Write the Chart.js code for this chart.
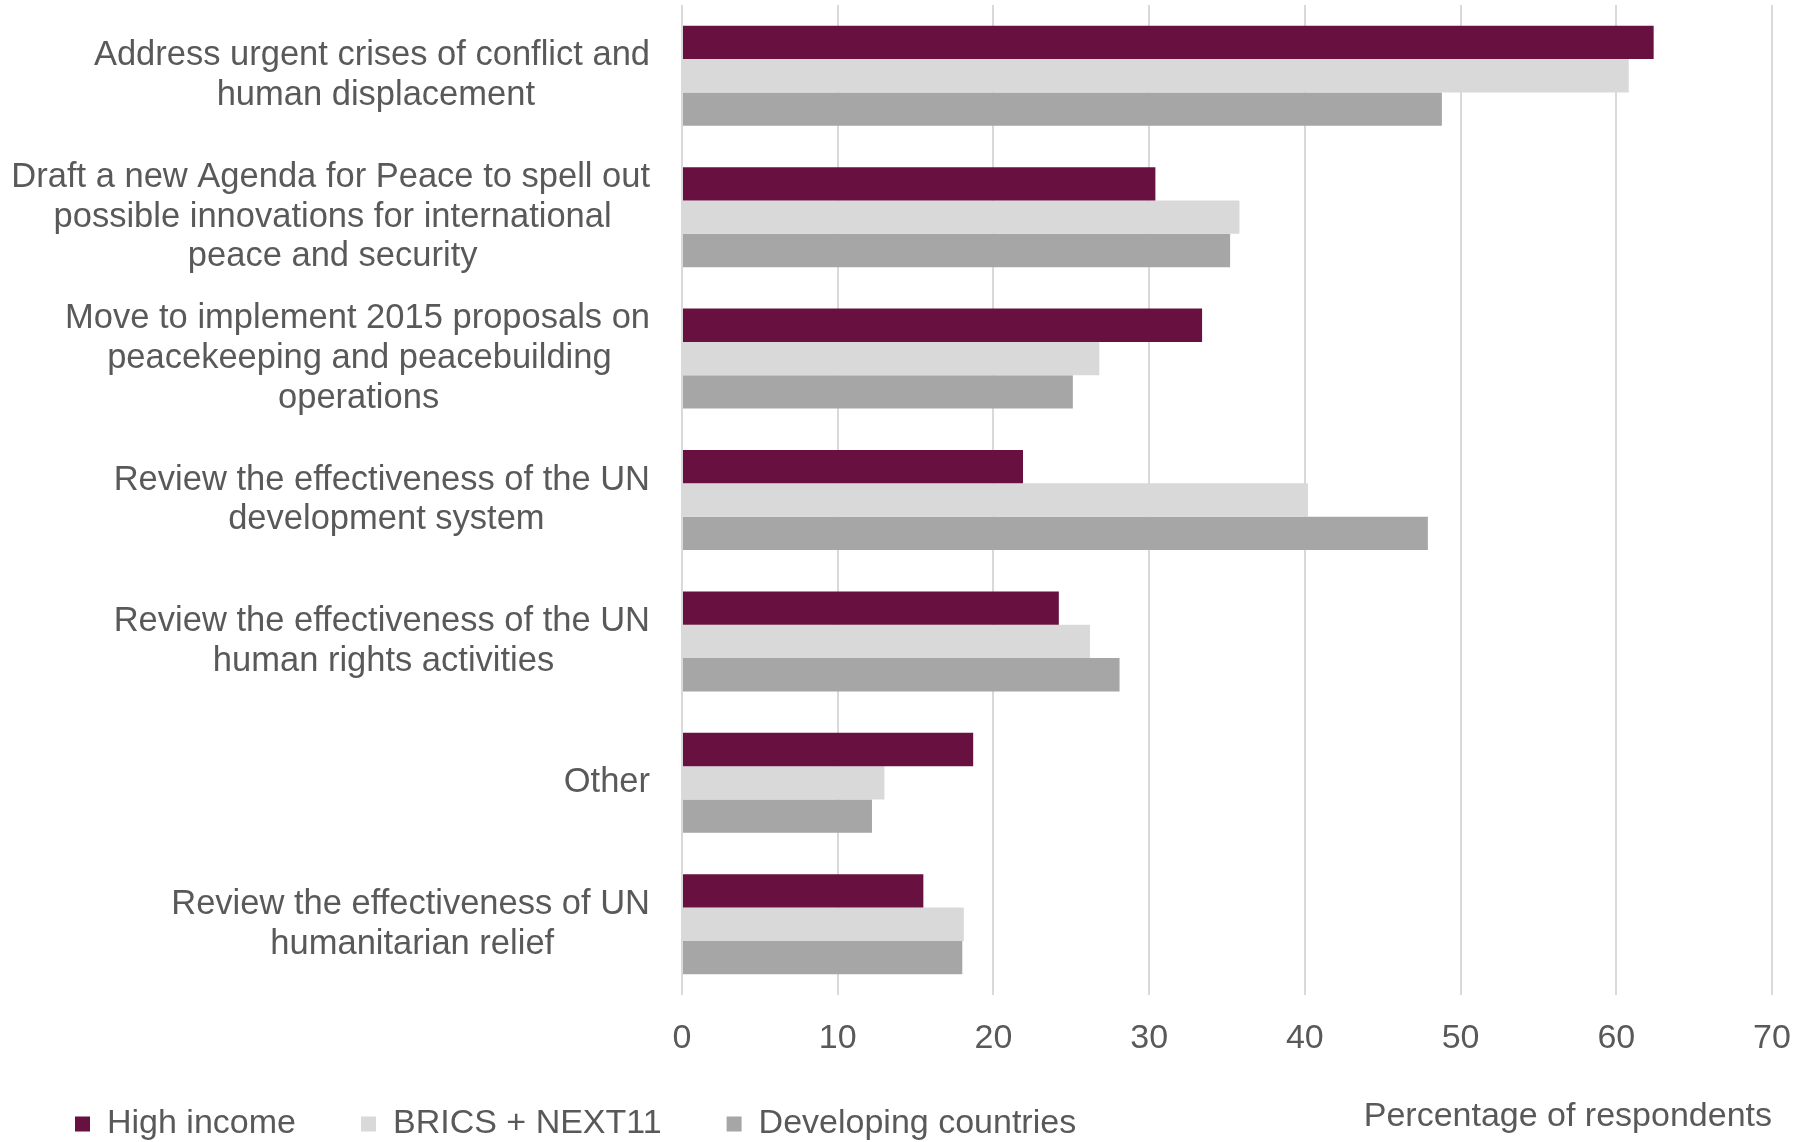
<!DOCTYPE html>
<html>
<head>
<meta charset="utf-8">
<script src="https://cdn.jsdelivr.net/npm/chart.js@4.4.1/dist/chart.umd.min.js"></script>
<style>
  html, body { margin: 0; padding: 0; background: #ffffff; overflow: hidden; }
  #wrap { width: 1802px; height: 1142px; position: relative; }
  canvas { display: block; }
</style>
</head>
<body>
<div id="wrap"><canvas id="c" width="1802" height="1142"></canvas></div>
<script>
// ---- data ----
const categories = [
  ["Address urgent crises of conflict and", "human displacement"],
  ["Draft a new Agenda for Peace to spell out", "possible innovations for international", "peace and security"],
  ["Move to implement 2015 proposals on", "peacekeeping and peacebuilding", "operations"],
  ["Review the effectiveness of the UN", "development system"],
  ["Review the effectiveness of the UN", "human rights activities"],
  "Other",
  ["Review the effectiveness of UN", "humanitarian relief"]
];
const seriesNames = ["High income", "BRICS + NEXT11", "Developing countries"];
const highIncome  = [62.4, 30.4, 33.4, 21.9, 24.2, 18.7, 15.5];
const bricsNext11 = [60.8, 35.8, 26.8, 40.2, 26.2, 13.0, 18.1];
const developing  = [48.8, 35.2, 25.1, 47.9, 28.1, 12.2, 18.0];
const xMin = 0, xMax = 70, xStep = 10;
const xAxisTitle = "Percentage of respondents";

// ---- styles ----
const FONT = "'Liberation Sans', Arial, sans-serif";
const TEXT = '#595959';
const SIZE = 34;
const LABEL_SIZE = 34.5;
const COLORS = ['#68103F', '#D9D9D9', '#A6A6A6'];

// centre the lines of a multi-line label on its widest line
const mctx = document.createElement('canvas').getContext('2d');
mctx.font = LABEL_SIZE + 'px ' + FONT;
function centreLines(lbl) {
  if (!Array.isArray(lbl)) return lbl;
  const widths = lbl.map(s => mctx.measureText(s).width);
  const maxW = Math.max.apply(null, widths);
  const sp = mctx.measureText(' ').width;
  return lbl.map((s, i) => s + ' '.repeat(Math.max(0, Math.round((maxW - widths[i]) / 2 / sp))));
}

Chart.defaults.font.family = FONT;
Chart.defaults.color = TEXT;

const seriesValues = [highIncome, bricsNext11, developing];

new Chart(document.getElementById('c').getContext('2d'), {
  type: 'bar',
  data: {
    labels: categories,
    datasets: seriesNames.map((name, i) => ({
      label: name,
      data: seriesValues[i],
      backgroundColor: COLORS[i],
      borderWidth: 0,
      barPercentage: 1,
      categoryPercentage: 0.707
    }))
  },
  options: {
    indexAxis: 'y',
    responsive: false,
    animation: false,
    devicePixelRatio: 1,
    layout: { padding: { left: 10, right: 30, top: 5, bottom: -9 } },
    scales: {
      x: {
        min: xMin, max: xMax,
        ticks: { stepSize: xStep, mirror: true, padding: -64, color: TEXT, font: { size: SIZE, lineHeight: 1.2 } },
        grid: { color: '#D9D9D9', lineWidth: 2, drawTicks: false },
        border: { display: false },
        title: {
          display: true, text: xAxisTitle, align: 'end', color: TEXT,
          font: { size: SIZE, lineHeight: 1.2 },
          padding: { top: 0, bottom: -95 }
        },
        afterFit(s) { s.height = 47; s.paddingLeft = 0; s.paddingRight = 0; }
      },
      y: {
        ticks: {
          padding: 32, color: TEXT, font: { size: LABEL_SIZE, lineHeight: 1.15 },
          callback(v) { return centreLines(this.getLabelForValue(v)); }
        },
        grid: { display: false, drawTicks: false },
        border: { display: false },
        afterFit(s) { s.width = 672; s.paddingTop = 0; s.paddingBottom = 0; }
      }
    },
    plugins: {
      legend: {
        position: 'bottom',
        align: 'start',
        labels: { boxWidth: 15, boxHeight: 15, padding: 65, color: TEXT, font: { size: SIZE } }
      },
      tooltip: { enabled: false }
    }
  }
});
</script>
</body>
</html>
